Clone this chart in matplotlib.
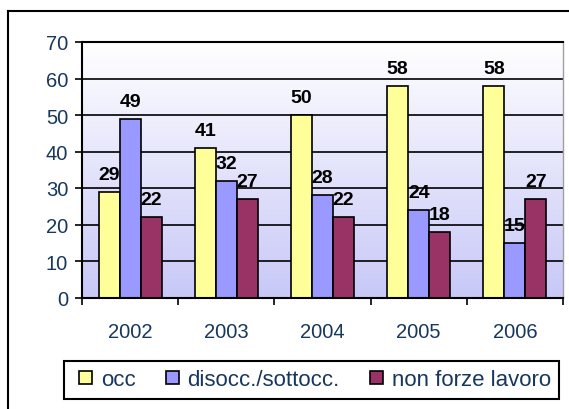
import numpy as np
import matplotlib
matplotlib.use("Agg")
import matplotlib.pyplot as plt
from matplotlib.lines import Line2D
from matplotlib.patches import Patch, Rectangle
from matplotlib.colors import LinearSegmentedColormap

years = ["2002", "2003", "2004", "2005", "2006"]
series_names = ["occ", "disocc./sottocc.", "non forze lavoro"]
occ = [29, 41, 50, 58, 58]
disocc = [49, 32, 28, 24, 15]
non_forze = [22, 27, 22, 18, 27]
colors = ["#FFFF99", "#9999FF", "#993366"]
yticks = [0, 10, 20, 30, 40, 50, 60, 70]

plt.rcParams['font.family'] = ['Liberation Sans', 'DejaVu Sans']
W, H = 569, 410
fig = plt.figure(figsize=(W / 100, H / 100), dpi=100)
fig.patch.set_facecolor('white')

def px(x0, y0, x1, y1):
    return [x0 / W, 1 - y1 / H, (x1 - x0) / W, (y1 - y0) / H]

ax = fig.add_axes(px(82, 43, 563, 298.5))
ax.set_xlim(-0.5, 4.5)
ax.set_ylim(0, 70)

# gradient background
grad = np.linspace(0, 1, 256).reshape(-1, 1)
cmap = LinearSegmentedColormap.from_list("bg", ["#C8C8F8", "#FFFFFF"])
ax.imshow(grad, extent=(-0.5, 4.5, 0, 70), origin='lower', aspect='auto',
          cmap=cmap, zorder=0, interpolation='bicubic')

for y in yticks[1:]:
    ax.axhline(y, color='black', lw=1.2, zorder=1)

x = np.arange(len(years))
bw = 0.218
data = [occ, disocc, non_forze]
tcolor = '#17375E'
for i, (vals, c) in enumerate(zip(data, colors)):
    xs = x + (i - 1) * bw
    ax.bar(xs, vals, width=bw, color=c, edgecolor='black', lw=1.2, zorder=2)
    for xi, v in zip(xs, vals):
        ax.annotate(str(v), (xi, v), xytext=(0, 6.5), textcoords='offset points',
                    ha='center', va='bottom', fontsize=14, fontweight='bold',
                    color='black', zorder=4)

ax.set_yticks(yticks)
ax.set_yticklabels([str(t) for t in yticks])
ax.set_xticks(np.arange(-0.5, 5.0, 1.0))
ax.set_xticklabels([])
ax.set_xticks(x, minor=True)
ax.set_xticklabels(years, minor=True)
ax.tick_params(axis='x', which='minor', length=0, pad=18, labelsize=14.5, labelcolor=tcolor)
ax.tick_params(axis='x', which='major', length=5, width=1.2, direction='out')
ax.tick_params(axis='y', length=5, width=1.2, direction='out', pad=5, labelsize=14.5, labelcolor=tcolor)

for s in ['left', 'bottom', 'top']:
    ax.spines[s].set_linewidth(1.5)
    ax.spines[s].set_color('black')
ax.spines['right'].set_color('#A0A0A0')
ax.spines['right'].set_linewidth(1.0)

# legend (frame drawn separately)
fig.add_artist(Rectangle((64 / W, 1 - 400 / H), (559 - 64) / W, (400 - 362) / H,
                         transform=fig.transFigure, facecolor='white',
                         edgecolor='black', lw=1.5, zorder=1))
handles = [Patch(facecolor=c, edgecolor='black', lw=1.2) for c in colors]
leg = fig.legend(handles, series_names, loc='center left',
                 bbox_to_anchor=(79 / W, 1 - 381 / H),
                 ncol=3, fontsize=16, frameon=False,
                 handlelength=0.585, handleheight=0.55, handletextpad=0.4,
                 columnspacing=1.35, borderpad=0, borderaxespad=0)
leg.set_zorder(2)
for t in leg.get_texts():
    t.set_color(tcolor)

# outer frame
fig.add_artist(Line2D([8 / W, 8 / W], [0, 1 - 12 / H], transform=fig.transFigure,
                      color='black', lw=1.5))
fig.add_artist(Line2D([8 / W, 1], [1 - 12 / H, 1 - 12 / H], transform=fig.transFigure,
                      color='black', lw=1.5))

fig.savefig("out.png", dpi=100)
